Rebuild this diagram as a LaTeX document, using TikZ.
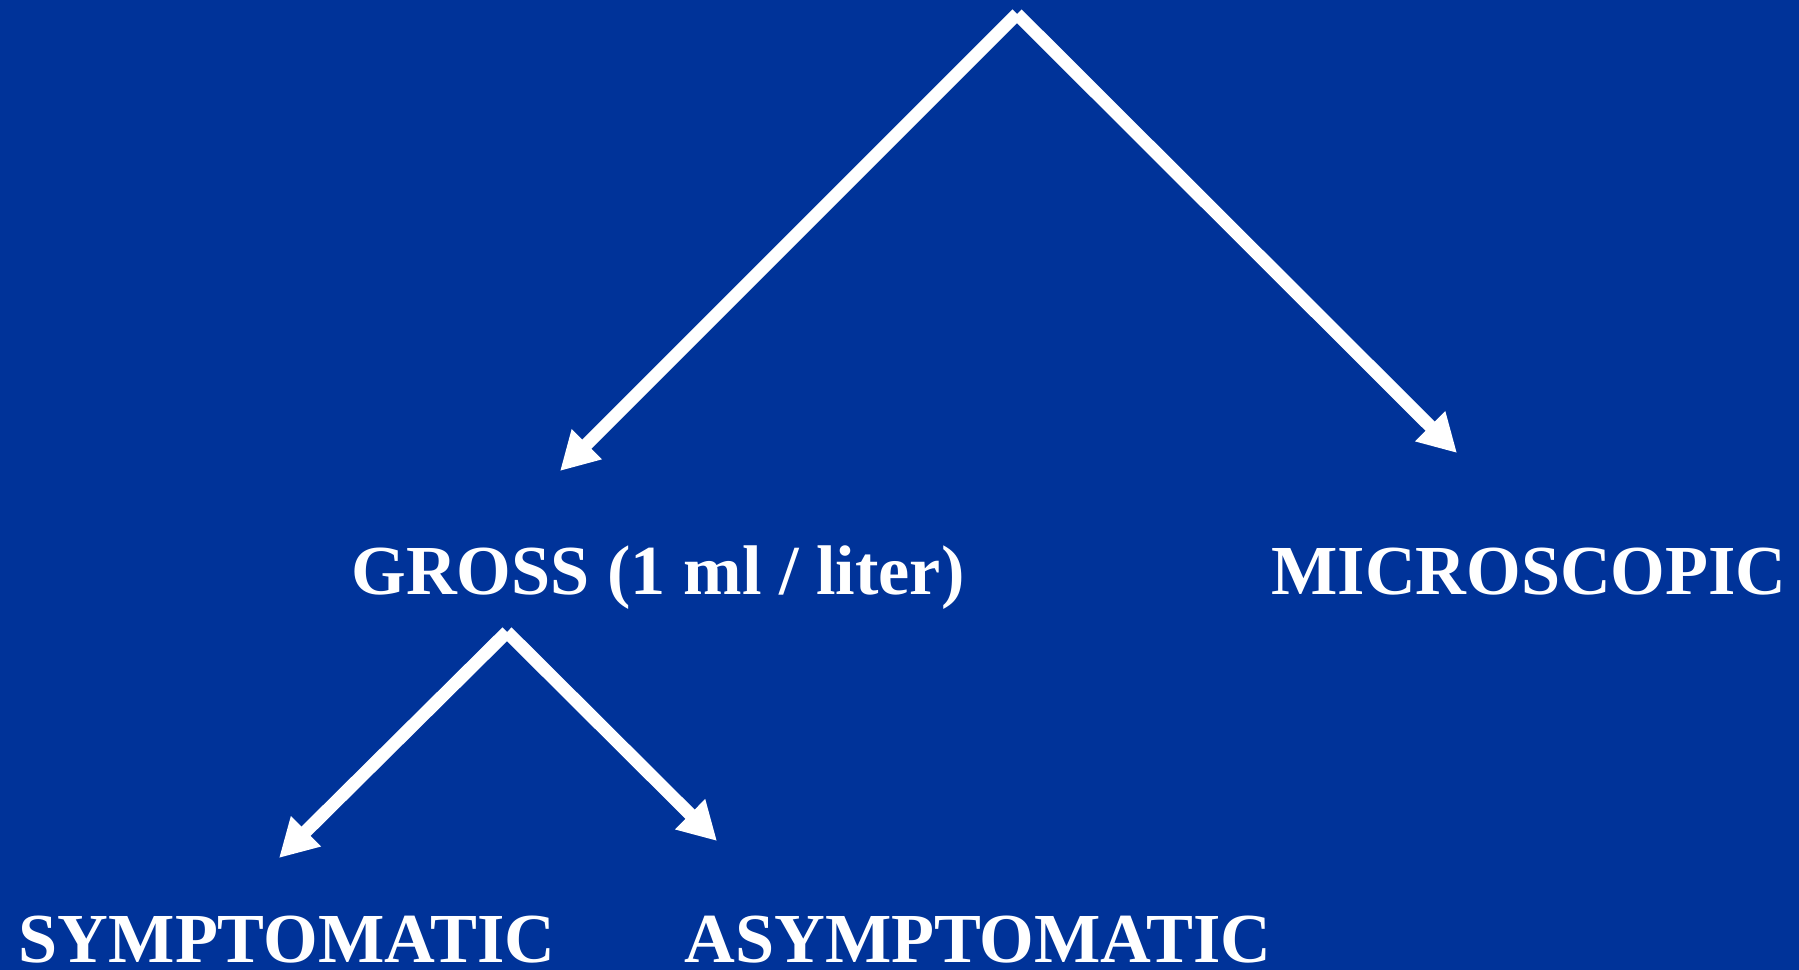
\documentclass[tikz,border=0pt]{standalone}
\usepackage{fontspec}
\setmainfont{Liberation Serif}
\usepackage{tikz}
\usetikzlibrary{arrows.meta, positioning, calc}

\definecolor{slideblue}{RGB}{0,51,153}

\begin{document}
\begin{tikzpicture}[
    x=0.02cm, y=-0.02cm,
    label/.style={
        text=white, font=\fontsize{40}{48}\selectfont\bfseries,
        inner sep=0pt, anchor=base
    },
    edge/.style={-{Triangle[length=0.76cm,width=0.8cm]}, line width=0.26cm, white},
]

% Background
\fill[slideblue] (0,0) rectangle (1799,970);
\useasboundingbox (0,0) rectangle (1799,970);

% Nodes
\node[label] (gross) at (658,594) {GROSS (1 ml / liter)};
\node[label] (micro) at (1529,594) {MICROSCOPIC};
\node[label] (symp) at (287,962) {SYMPTOMATIC};
\node[label] (asymp) at (978,962) {ASYMPTOMATIC};

% Fork points and arrow ends
\coordinate (root) at (1017,14);
\coordinate (grossend) at (560,471);
\coordinate (microend) at (1457,453);
\coordinate (fork) at (507,632);
\coordinate (sympend) at (279,858);
\coordinate (asympend) at (717,841);

% Upper split
\draw[edge] (root) -- (grossend);
\draw[edge] (root) -- (microend);

% Lower split
\draw[edge] (fork) -- (sympend);
\draw[edge] (fork) -- (asympend);

\end{tikzpicture}
\end{document}
